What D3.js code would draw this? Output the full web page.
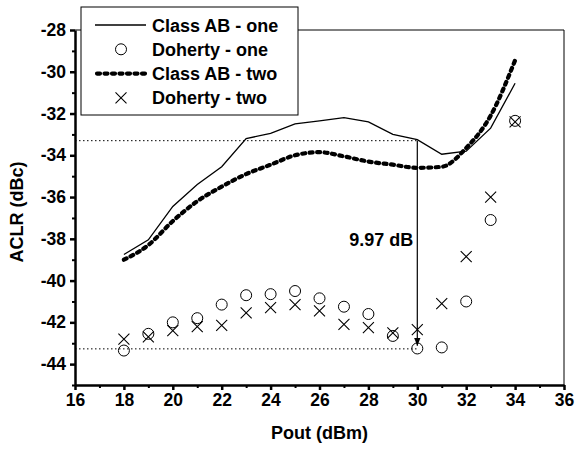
<!DOCTYPE html>
<html>
<head>
<meta charset="utf-8">
<script src="https://cdn.jsdelivr.net/npm/d3@7"></script>
<style>
  body { margin: 0; background: #fff; }
  svg { display: block; font-family: "Liberation Sans", Arial, sans-serif; }
</style>
</head>
<body>
<svg id="chart" width="576" height="452"></svg>
<script>
// values
const pout = [18, 19, 20, 21, 22, 23, 24, 25, 26, 27, 28, 29, 30, 31, 32, 33, 34];
const classAbOne = [-38.75, -38.05, -36.45, -35.4, -34.55, -33.2, -32.95, -32.5, -32.35, -32.2, -32.4, -33.0, -33.25, -33.95, -33.8, -32.7, -30.55];
const dohertyOne = [-43.35, -42.55, -42.0, -41.8, -41.15, -40.7, -40.65, -40.5, -40.85, -41.25, -41.6, -42.65, -43.25, -43.2, -41.0, -37.1, -32.35];
const classAbTwo = [-39.0, -38.3, -37.15, -36.2, -35.5, -34.9, -34.45, -34.0, -33.85, -34.05, -34.3, -34.45, -34.6, -34.55, -33.65, -32.1, -29.45];
const dohertyTwo = [-42.8, -42.7, -42.4, -42.2, -42.15, -41.55, -41.3, -41.15, -41.45, -42.1, -42.25, -42.5, -42.35, -41.1, -38.85, -36.0, -32.4];

const xTicks = [16, 18, 20, 22, 24, 26, 28, 30, 32, 34, 36];
const yTicks = [-44, -42, -40, -38, -36, -34, -32, -30, -28];
const legendNames = ["Class AB - one", "Doherty - one", "Class AB - two", "Doherty - two"];

// the 9.97 dB marker
const markX = 30;
const markTop = -33.3;
const markBottom = -43.27;

const svg = d3.select("#chart");
const x = d3.scaleLinear().domain([16, 36]).range([75, 564]);
const y = d3.scaleLinear().domain([-45, -28]).range([385, 30]);

const fmt = d => String(d);

// frame top / right
svg.append("line").attr("x1", x(16)).attr("x2", x(36)).attr("y1", y(-28)).attr("y2", y(-28))
  .attr("stroke", "#000").attr("stroke-width", 1);
svg.append("line").attr("x1", x(36)).attr("x2", x(36)).attr("y1", y(-28)).attr("y2", y(-45))
  .attr("stroke", "#000").attr("stroke-width", 1);

function styleAxis(g) {
  g.select(".domain").attr("stroke-width", 2.5);
  g.selectAll(".tick line").attr("stroke-width", 2.5);
  g.selectAll(".tick text").attr("font-size", 17.5).attr("font-weight", "bold")
    .attr("font-family", "Liberation Sans, Arial, sans-serif").attr("fill", "#000");
}

// minor ticks
svg.append("g").attr("transform", `translate(${x(16)},0)`)
  .call(d3.axisLeft(y).tickValues(d3.range(-45, -28, 2)).tickSize(3).tickFormat(""))
  .call(g => g.select(".domain").remove())
  .call(g => g.selectAll(".tick line").attr("stroke-width", 2));
svg.append("g").attr("transform", `translate(0,${y(-45)})`)
  .call(d3.axisBottom(x).tickValues(d3.range(17, 36, 2)).tickSize(3).tickFormat(""))
  .call(g => g.select(".domain").remove())
  .call(g => g.selectAll(".tick line").attr("stroke-width", 2));

svg.append("g").attr("transform", `translate(${x(16)},0)`)
  .call(d3.axisLeft(y).tickValues(yTicks).tickSize(5).tickSizeOuter(0).tickPadding(4).tickFormat(fmt))
  .call(styleAxis);
svg.append("g").attr("transform", `translate(0,${y(-45)})`)
  .call(d3.axisBottom(x).tickValues(xTicks).tickSize(5).tickSizeOuter(0).tickPadding(4).tickFormat(fmt))
  .call(styleAxis);

// axis titles
svg.append("text").attr("x", (x(16) + x(36)) / 2).attr("y", 439)
  .attr("text-anchor", "middle").attr("font-size", 18).attr("font-weight", "bold")
  .text("Pout (dBm)");
svg.append("text").attr("transform", `translate(23,212) rotate(-90)`)
  .attr("text-anchor", "middle").attr("font-size", 18).attr("font-weight", "bold")
  .text("ACLR (dBc)");

// dotted reference lines
[markTop, markBottom].forEach(v => {
  svg.append("line").attr("x1", x(16)).attr("x2", x(markX)).attr("y1", y(v)).attr("y2", y(v))
    .attr("stroke", "#000").attr("stroke-width", 1).attr("stroke-dasharray", "1.5,2.5");
});

const line = d3.line().x((d, i) => x(pout[i])).y(d => y(d));
const smooth = d3.line().x((d, i) => x(pout[i])).y(d => y(d)).curve(d3.curveMonotoneX);

svg.append("path").datum(classAbOne).attr("d", line)
  .attr("fill", "none").attr("stroke", "#000").attr("stroke-width", 1.3);
svg.append("path").datum(classAbTwo).attr("d", smooth)
  .attr("fill", "none").attr("stroke", "#000").attr("stroke-width", 4.2)
  .attr("stroke-dasharray", "3,4.5").attr("stroke-linecap", "round");

svg.append("g").selectAll("circle").data(dohertyOne).join("circle")
  .attr("cx", (d, i) => x(pout[i])).attr("cy", d => y(d)).attr("r", 5.5)
  .attr("fill", "none").attr("stroke", "#000").attr("stroke-width", 1);

const cross = { draw(ctx) { const r = 5.5; ctx.moveTo(-r, -r); ctx.lineTo(r, r); ctx.moveTo(-r, r); ctx.lineTo(r, -r); } };
svg.append("g").selectAll("path").data(dohertyTwo).join("path")
  .attr("transform", (d, i) => `translate(${x(pout[i])},${y(d)})`)
  .attr("d", d3.symbol().type(cross)())
  .attr("fill", "none").attr("stroke", "#000").attr("stroke-width", 1.1);

// 9.97 dB arrow
svg.append("defs").append("marker").attr("id", "arr").attr("viewBox", "0 0 10 10")
  .attr("refX", 10).attr("refY", 5).attr("markerWidth", 8).attr("markerHeight", 8)
  .attr("markerUnits", "userSpaceOnUse").attr("orient", "auto")
  .append("path").attr("d", "M0,1L10,5L0,9Z").attr("fill", "#000");
svg.append("line").attr("x1", x(markX)).attr("x2", x(markX))
  .attr("y1", y(markTop)).attr("y2", y(markBottom) - 3)
  .attr("stroke", "#000").attr("stroke-width", 1.2).attr("marker-end", "url(#arr)");
svg.append("text").attr("x", x(markX) - 4).attr("y", 246).attr("text-anchor", "end")
  .attr("font-size", 18).attr("font-weight", "bold").text("9.97 dB");

// legend
const lg = svg.append("g");
lg.append("rect").attr("x", 81).attr("y", 7).attr("width", 217).attr("height", 108)
  .attr("fill", "#fff").attr("stroke", "#000").attr("stroke-width", 1);
legendNames.forEach((name, i) => {
  const cy = 25 + i * 24.3;
  const row = lg.append("g").attr("transform", `translate(0,${cy})`);
  if (i === 0) {
    row.append("line").attr("x1", 95).attr("x2", 146).attr("stroke", "#000").attr("stroke-width", 1.3);
  } else if (i === 2) {
    row.append("line").attr("x1", 97).attr("x2", 146).attr("stroke", "#000").attr("stroke-width", 4.2)
      .attr("stroke-dasharray", "3,4.5").attr("stroke-linecap", "round");
  } else if (i === 1) {
    row.append("circle").attr("cx", 121).attr("r", 5.5).attr("fill", "none").attr("stroke", "#000");
  } else {
    row.append("path").attr("d", "M115.5,-5.5L126.5,5.5M115.5,5.5L126.5,-5.5")
      .attr("stroke", "#000").attr("stroke-width", 1.1);
  }
  row.append("text").attr("x", 152).attr("y", 6.5).attr("font-size", 18).attr("font-weight", "bold")
    .text(name);
});
</script>
</body>
</html>
